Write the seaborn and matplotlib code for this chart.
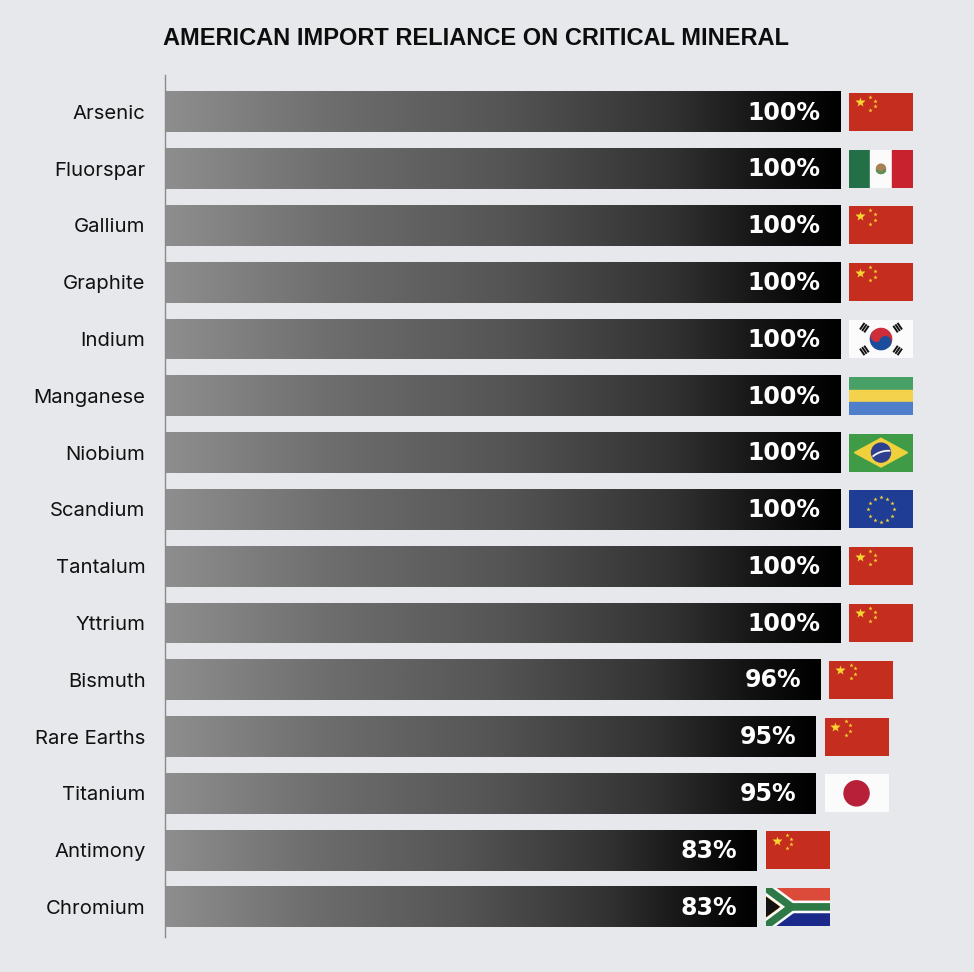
"""
plot.py - American import reliance on critical minerals
Gradient bars with the main source country flag next to each bar
"""

import numpy as np
import pandas as pd
import matplotlib
matplotlib.use('Agg')
import matplotlib.pyplot as plt
from matplotlib.colors import LinearSegmentedColormap
from matplotlib.patches import Rectangle, Polygon, Circle, Wedge
import seaborn as sns

# ============================================================
# DATA
# ============================================================

minerals = ['Arsenic', 'Fluorspar', 'Gallium', 'Graphite', 'Indium', 'Manganese',
            'Niobium', 'Scandium', 'Tantalum', 'Yttrium', 'Bismuth', 'Rare Earths',
            'Titanium', 'Antimony', 'Chromium']
reliance = [100, 100, 100, 100, 100, 100, 100, 100, 100, 100, 96, 95, 95, 83, 83]
top_source = ['China', 'Mexico', 'China', 'China', 'South Korea', 'Gabon', 'Brazil',
              'EU', 'China', 'China', 'China', 'China', 'Japan', 'China', 'South Africa']

title = 'AMERICAN IMPORT RELIANCE ON CRITICAL MINERAL'

# ============================================================
# LAYOUT / STYLE
# ============================================================

FIG_W, FIG_H = 974, 972
BG = '#e7e8eb'
BAR_BASE = -38          # bars start here (design baseline of the graphic)
X_MAX = 120
AX_LEFT, AX_TOP, AX_BOTTOM = 165, 75, 937
AX_WIDTH = 675 * (X_MAX - BAR_BASE) / (100 - BAR_BASE)
FLAG_W, FLAG_H, FLAG_GAP = 64, 38, 9

bar_cmap = LinearSegmentedColormap.from_list(
    'bar_grad',
    [(0.0, '#8e8e8e'), (0.25, '#6d6d6d'), (0.5, '#555555'),
     (0.75, '#323232'), (0.9, '#111111'), (1.0, '#000000')])

sns.set_theme(style='white', rc={'figure.facecolor': BG, 'axes.facecolor': BG,
                                 'savefig.facecolor': BG})
plt.rcParams['font.family'] = ['Liberation Sans', 'DejaVu Sans']

# ============================================================
# FLAGS (drawn in square units, y pointing down)
# ============================================================

def flag_china(fa, W, H):
    fa.add_patch(Rectangle((0, 0), W, H, color='#c52e1f'))
    s = W / 30
    fa.plot(5 * s, 5, marker='*', ms=7, color='#f7d531', mec='none')
    for x, y in [(10, 2), (12, 4), (12, 7), (10, 9)]:
        fa.plot(x * s, y, marker='*', ms=3.2, color='#f7d531', mec='none')


def flag_mexico(fa, W, H):
    fa.add_patch(Rectangle((0, 0), W / 3, H, color='#236f47'))
    fa.add_patch(Rectangle((W / 3, 0), W / 3, H, color='#fbfbfb'))
    fa.add_patch(Rectangle((2 * W / 3, 0), W / 3, H, color='#c8222f'))
    fa.add_patch(Circle((W / 2, H / 2), 2.4, color='#a98152'))
    fa.add_patch(Wedge((W / 2, H / 2), 2.6, 20, 160, width=0.9, color='#5f8f55'))


def flag_korea(fa, W, H):
    fa.add_patch(Rectangle((0, 0), W, H, color='#fbfbfb'))
    cx, cy, r = W / 2, H / 2, 5.6
    d = np.array([-8.76, -6.0])
    d = d / np.hypot(*d)
    a = np.degrees(np.arctan2(d[1], d[0]))
    fa.add_patch(Wedge((cx, cy), r, a, a + 180, color='#cd2e3a'))
    fa.add_patch(Wedge((cx, cy), r, a + 180, a + 360, color='#1a4d9c'))
    fa.add_patch(Circle((cx + d[0] * r / 2, cy + d[1] * r / 2), r / 2, color='#cd2e3a'))
    fa.add_patch(Circle((cx - d[0] * r / 2, cy - d[1] * r / 2), r / 2, color='#1a4d9c'))
    for sx, sy in [(-1, -1), (1, -1), (-1, 1), (1, 1)]:
        u = np.array([sx * 8.76, sy * 6.0])
        c = np.array([cx, cy]) + u
        u = u / np.hypot(*u)
        p = np.array([-u[1], u[0]])
        for k in (-1, 0, 1):
            m = c + k * 1.35 * u
            a0, a1 = m - 2.1 * p, m + 2.1 * p
            fa.plot([a0[0], a1[0]], [a0[1], a1[1]], color='#111111', lw=1.4,
                    solid_capstyle='butt')


def flag_gabon(fa, W, H):
    for k, col in enumerate(['#47a065', '#f5d24c', '#4f7fcb']):
        fa.add_patch(Rectangle((0, k * H / 3), W, H / 3, color=col))


def flag_brazil(fa, W, H):
    fa.add_patch(Rectangle((0, 0), W, H, color='#3f9b46'))
    mx, my = 1.7 / 20 * W, 1.7 / 14 * H
    fa.add_patch(Polygon([(mx, H / 2), (W / 2, my), (W - mx, H / 2), (W / 2, H - my)],
                         color='#f1d13b'))
    cx, cy, r = W / 2, H / 2, 5.0
    disc = Circle((cx, cy), r, color='#2e3f8f')
    fa.add_patch(disc)
    t = np.linspace(np.pi * 1.05, np.pi * 1.6, 40)
    band, = fa.plot(cx + 4 + 13 * np.cos(t), cy + 12 + 13 * np.sin(t),
                    color='#f4f4f4', lw=1.3)
    band.set_clip_path(disc)


def flag_eu(fa, W, H):
    fa.add_patch(Rectangle((0, 0), W, H, color='#203d96'))
    t = np.linspace(0, 2 * np.pi, 13)[:-1]
    fa.plot(W / 2 + 6.6 * np.cos(t), H / 2 + 6.6 * np.sin(t), ls='none',
            marker='*', ms=3.2, color='#f8d531', mec='none')


def flag_japan(fa, W, H):
    fa.add_patch(Rectangle((0, 0), W, H, color='#fbfbfb'))
    fa.add_patch(Circle((W / 2, H / 2), 6.6, color='#b8203a'))


def flag_south_africa(fa, W, H):
    fa.add_patch(Rectangle((0, 0), W, H / 2, color='#dc4b39'))
    fa.add_patch(Rectangle((0, H / 2), W, H / 2, color='#1b2a8a'))
    X = 0.4 * W
    px_unit = FLAG_H / H
    arms = ([-5, X, W + 2], [-5 * 10 / X, H / 2, H / 2])
    arms2 = ([-5, X], [H + 5 * 10 / X, H / 2])
    lw = 6.67 * px_unit * 72 / 100
    fa.plot(*arms, color='#fbfbfb', lw=lw, solid_joinstyle='miter')
    fa.plot(*arms2, color='#fbfbfb', lw=lw, solid_joinstyle='miter')
    fa.add_patch(Polygon([(0, 0), (X, H / 2), (0, H)], color='#f0b429'))
    lw = 4 * px_unit * 72 / 100
    fa.plot(*arms, color='#2d7a47', lw=lw, solid_joinstyle='miter')
    fa.plot(*arms2, color='#2d7a47', lw=lw, solid_joinstyle='miter')
    fa.add_patch(Polygon([(0, 4.9), (7.0, H / 2), (0, H - 4.9)], color='#111111'))


FLAGS = {'China': flag_china, 'Mexico': flag_mexico, 'South Korea': flag_korea,
         'Gabon': flag_gabon, 'Brazil': flag_brazil, 'EU': flag_eu,
         'Japan': flag_japan, 'South Africa': flag_south_africa}

# ============================================================
# BARS
# ============================================================

df = pd.DataFrame({'mineral': minerals, 'reliance': reliance, 'source': top_source})
df['span'] = df['reliance'] - BAR_BASE

fig = plt.figure(figsize=(FIG_W / 100, FIG_H / 100), dpi=100)
ax = fig.add_axes([AX_LEFT / FIG_W, 1 - AX_BOTTOM / FIG_H,
                   AX_WIDTH / FIG_W, (AX_BOTTOM - AX_TOP) / FIG_H])

sns.barplot(data=df, x='span', y='mineral', orient='h', color='black', width=0.72,
            errorbar=None, left=BAR_BASE, linewidth=0, edgecolor='none', ax=ax, zorder=1)

grad = np.linspace(0, 1, 256).reshape(1, -1)
for bar in ax.patches:
    x0, y0 = bar.get_x(), bar.get_y()
    w, h = bar.get_width(), bar.get_height()
    im = ax.imshow(grad, cmap=bar_cmap, extent=[x0, x0 + w, y0 + h, y0],
                   aspect='auto', zorder=2, interpolation='bilinear')
    im.set_clip_path(bar)

ax.set_xlim(BAR_BASE, X_MAX)
ax.set_ylim(len(minerals) - 1 + 0.53, -0.65)

for i, v in enumerate(df['reliance']):
    ax.annotate(f'{v}%', xy=(v, i), xytext=(-14, -0.5), textcoords='offset points',
                ha='right', va='center', color='white', fontsize=17,
                fontweight='bold', family=['DejaVu Sans'], zorder=3)

ax.set_xlabel('')
ax.set_ylabel('')
ax.set_xticks([])
ax.tick_params(axis='y', length=0, pad=14, labelsize=14.6, labelcolor='#111111')
for lab in ax.get_yticklabels():
    lab.set_family(['Inter', 'Liberation Sans', 'DejaVu Sans'])
sns.despine(ax=ax, left=False, bottom=True)
ax.spines['left'].set_color('#8a8a8a')
ax.spines['left'].set_linewidth(1)

fig.text(163 / FIG_W, 1 - 45 / FIG_H, title, fontsize=17, fontweight='bold',
         ha='left', va='baseline', color='#0d0d0d')

# ============================================================
# FLAGS NEXT TO BARS
# ============================================================

for i, (v, src) in enumerate(zip(df['reliance'], df['source'])):
    xe, yc = ax.transData.transform((v, i))
    fa = fig.add_axes([(xe + FLAG_GAP) / FIG_W, (yc - FLAG_H / 2) / FIG_H,
                       FLAG_W / FIG_W, FLAG_H / FIG_H])
    H = 20
    W = H * FLAG_W / FLAG_H
    fa.set_xlim(0, W)
    fa.set_ylim(H, 0)
    fa.axis('off')
    FLAGS[src](fa, W, H)

fig.savefig('out.png', dpi=100)
print('saved out.png')
